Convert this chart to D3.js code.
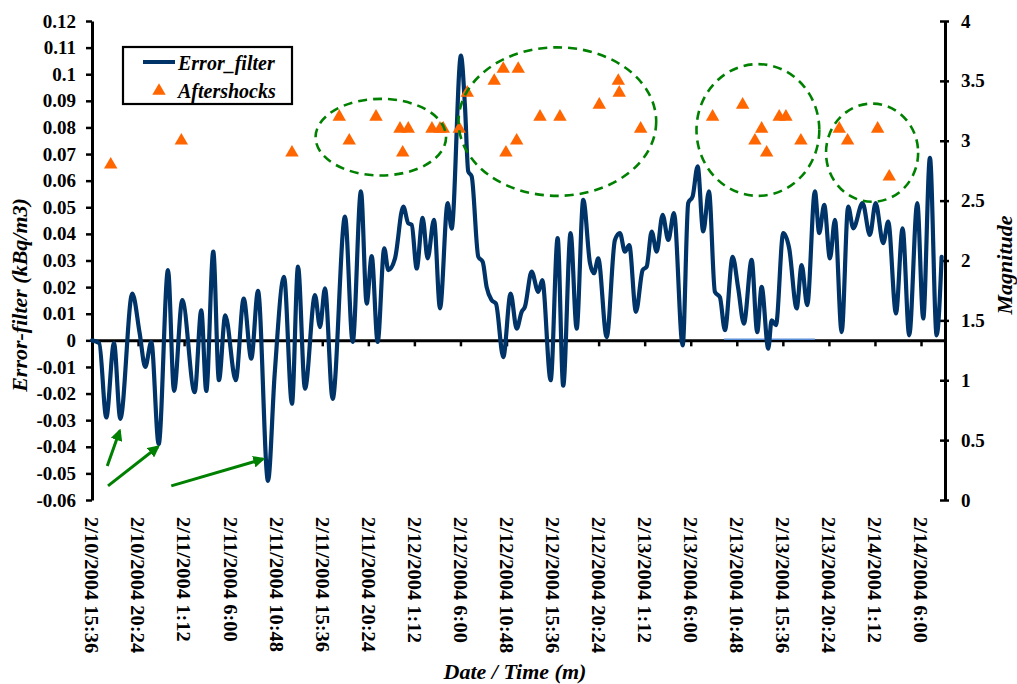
<!DOCTYPE html>
<html>
<head>
<meta charset="utf-8">
<script src="https://cdn.jsdelivr.net/npm/d3@7/dist/d3.min.js"></script>
<style>
  html, body { margin: 0; padding: 0; background: #fff; }
  svg { display: block; font-family: "Liberation Serif", "Times New Roman", serif; }
</style>
</head>
<body>
<svg id="chart" width="1017" height="684"></svg>
<script>
// ---------- DATA ----------
const startTime = new Date(2004, 1, 10, 15, 36);   // 2/10/2004 15:36
const axisEndHours = 88.9;
const tickStepHours = 4.8;

const xTickLabels = [
  "2/10/2004 15:36", "2/10/2004 20:24", "2/11/2004 1:12", "2/11/2004 6:00",
  "2/11/2004 10:48", "2/11/2004 15:36", "2/11/2004 20:24", "2/12/2004 1:12",
  "2/12/2004 6:00", "2/12/2004 10:48", "2/12/2004 15:36", "2/12/2004 20:24",
  "2/13/2004 1:12", "2/13/2004 6:00", "2/13/2004 10:48", "2/13/2004 15:36",
  "2/13/2004 20:24", "2/14/2004 1:12", "2/14/2004 6:00"
];
const leftTicks = [0.12, 0.11, 0.1, 0.09, 0.08, 0.07, 0.06, 0.05, 0.04, 0.03, 0.02, 0.01, 0,
                   -0.01, -0.02, -0.03, -0.04, -0.05, -0.06];
const leftTickLabels = ["0.12", "0.11", "0.1", "0.09", "0.08", "0.07", "0.06", "0.05", "0.04", "0.03",
                        "0.02", "0.01", "0", "-0.01", "-0.02", "-0.03", "-0.04", "-0.05", "-0.06"];
const rightTicks = [0, 0.5, 1, 1.5, 2, 2.5, 3, 3.5, 4];
const rightTickLabels = ["0", "0.5", "1", "1.5", "2", "2.5", "3", "3.5", "4"];

// Error_filter series: hours since 2/10/2004 15:36, value (kBq/m3)
const errorHours = [0, 0.75, 1.49, 2.29, 2.95, 4.20, 4.97, 5.55, 6.18, 6.95, 7.92, 8.55, 9.41, 10.70, 11.39,
  11.91, 12.64, 13.23, 13.89, 14.98, 15.81, 16.60, 17.30, 18.34, 19.04, 20.01, 20.84, 21.47, 22.20, 23.24,
  23.76, 24.28, 25.08, 26.37, 27.17, 28.03, 28.63, 29.15, 29.77, 30.46, 30.88, 31.58, 32.44, 32.96, 33.32,
  33.84, 34.46, 34.98, 35.64, 36.27, 37.07, 37.48, 38.45, 38.87, 39.21, 39.57, 40.26, 40.72, 41.13, 41.65,
  42.10, 42.86, 43.63, 44.26, 44.78, 45.12, 45.82, 46.51, 46.93, 47.80, 48.53, 49.11, 49.88, 50.51, 51.20,
  51.90, 52.31, 52.76, 53.64, 54.50, 55.02, 55.54, 55.99, 56.69, 57.39, 57.81, 58.33, 58.85, 59.47, 60.06,
  60.65, 61.56, 62.14, 62.60, 63.12, 63.70, 64.30, 64.92, 65.44, 65.96, 66.77, 67.35, 67.94, 68.75, 69.33,
  69.79, 70.48, 70.83, 71.28, 72.04, 72.66, 73.44, 73.96, 74.54, 75.34, 75.79, 76.31, 76.91, 77.43, 78.13,
  78.81, 79.34, 80.31, 81.07, 81.67, 82.46, 82.98, 83.79, 84.48, 85.17, 86.01, 86.63, 87.33, 88.03, 88.55];
const errorValues = [0, -0.001, -0.029, -0.001, -0.0295, 0.0176, 0.0026, -0.010, -0.0006, -0.039, 0.0264, -0.019,
  0.0151, -0.0195, 0.0113, -0.019, 0.0333, -0.015, 0.0094, -0.015, 0.0157, -0.0069, 0.0186, -0.0528, -0.0126,
  0.0239, -0.0238, 0.0277, -0.0182, 0.017, 0.005, 0.0195, -0.022, 0.0465, -0.0006, 0.056, 0.0138, 0.0317,
  -0.0006, 0.0346, 0.0264, 0.0308, 0.0503, 0.044, 0.0434, 0.027, 0.046, 0.0308, 0.0453, 0.012, 0.0516, 0.042,
  0.107, 0.088, 0.0635, 0.0616, 0.0314, 0.0295, 0.020, 0.0151, 0.0138, -0.0063, 0.0176, 0.0044, 0.0107, 0.0126,
  0.0258, 0.0182, 0.0226, -0.015, 0.0384, -0.017, 0.0403, 0.0044, 0.0528, 0.029, 0.0252, 0.0308, 0.0012, 0.0377,
  0.0403, 0.0333, 0.0358, 0.0107, 0.0264, 0.0277, 0.0409, 0.0333, 0.0472, 0.0377, 0.0478, -0.0019, 0.0516,
  0.0541, 0.0654, 0.0409, 0.056, 0.0182, 0.0162, 0.0038, 0.0314, 0.0195, 0.0063, 0.0302, 0.0031, 0.0201,
  -0.0031, 0.0075, 0.0057, 0.0403, 0.0346, 0.012, 0.0283, 0.0132, 0.056, 0.0403, 0.0509, 0.0308, 0.0453, 0.0031,
  0.0503, 0.0421, 0.0516, 0.0396, 0.0516, 0.0365, 0.0446, 0.0101, 0.0421, 0.0019, 0.0516, 0.0082, 0.0686,
  0.0019, 0.0314];

// Aftershocks: hours since start, magnitude
const shockHours = [1.95, 9.31, 20.84, 25.77, 26.81, 29.60, 32.10, 32.38, 32.96, 35.43, 36.27, 36.61, 38.28,
  39.11, 41.92, 42.86, 43.14, 44.26, 44.42, 46.69, 48.77, 52.87, 54.85, 54.95, 57.18, 64.68, 67.81, 69.09,
  69.79, 70.31, 71.62, 72.32, 73.88, 77.88, 78.75, 81.88, 83.09];
const shockMagnitudes = [2.8, 3.0, 2.9, 3.2, 3.0, 3.2, 3.1, 2.9, 3.1, 3.1, 3.1, 3.1, 3.1,
  3.4, 3.5, 3.6, 2.9, 3.0, 3.6, 3.2, 3.2, 3.3, 3.5, 3.4, 3.1, 3.2, 3.3, 3.0,
  3.1, 2.9, 3.2, 3.2, 3.0, 3.1, 3.0, 3.1, 2.7];

// Annotation clusters (dashed ellipses): centre hours, centre magnitude, half-width hours, half-height magnitude
const clusterHours = [30.1, 48.5, 69.4, 81.3];
const clusterMagnitudes = [3.03, 3.16, 3.09, 2.90];
const clusterHalfHours = [6.8, 10.3, 6.4, 4.8];
const clusterHalfMagnitudes = [0.32, 0.62, 0.55, 0.41];

// Annotation arrows: from (hours, value) to (hours, value) on the left axis
const arrowFromHours = [1.59, 1.67, 8.26];
const arrowFromValues = [-0.0472, -0.0547, -0.0547];
const arrowToHours = [2.89, 6.88, 17.82];
const arrowToValues = [-0.034, -0.040, -0.0446];

// Thin highlighted segment on the zero line
const highlightHours = [65.86, 75.34];

// ---------- CHART ----------
const FONT = '"Liberation Serif", "Times New Roman", serif';
const svg = d3.select("#chart");
const L = 92, R = 945, T = 21, B = 500;
const hrs = h => new Date(startTime.getTime() + h * 3600e3);

const x = d3.scaleTime().domain([startTime, hrs(axisEndHours)]).range([L, R]);
const yL = d3.scaleLinear().domain([-0.06, 0.12]).range([B, T]);
const yR = d3.scaleLinear().domain([0, 4]).range([B, T]);

// Left axis
const gL = svg.append("g").attr("transform", `translate(${L},0)`)
  .call(d3.axisLeft(yL).tickValues(leftTicks).tickSize(6).tickSizeOuter(0).tickPadding(10)
    .tickFormat((d, i) => leftTickLabels[i]));
gL.select(".domain").attr("stroke", "#000").attr("stroke-width", 3);
gL.selectAll(".tick line").attr("stroke", "#000").attr("stroke-width", 2.5);
gL.selectAll(".tick text").attr("font-family", FONT).attr("font-weight", "bold")
  .attr("font-size", 19).attr("fill", "#000");

// Right axis
const gR = svg.append("g").attr("transform", `translate(${R},0)`)
  .call(d3.axisRight(yR).tickValues(rightTicks).tickSize(4).tickSizeOuter(0).tickPadding(12)
    .tickFormat((d, i) => rightTickLabels[i]));
gR.select(".domain").attr("stroke", "#000").attr("stroke-width", 3);
gR.selectAll(".tick line").attr("stroke", "#000").attr("stroke-width", 2.5).attr("x1", -5);
gR.selectAll(".tick text").attr("font-family", FONT).attr("font-weight", "bold")
  .attr("font-size", 19).attr("fill", "#000");

// Bottom axis at zero
const tickDates = xTickLabels.map((_, i) => hrs(i * tickStepHours));
const gB = svg.append("g").attr("transform", `translate(0,${yL(0)})`)
  .call(d3.axisBottom(x).tickValues(tickDates).tickSize(6).tickSizeOuter(0).tickFormat(""));
gB.select(".domain").attr("stroke", "#000").attr("stroke-width", 3);
gB.selectAll(".tick line").attr("stroke", "#000").attr("stroke-width", 2.5);

// X tick labels below the plot, rotated
svg.append("g").selectAll("text").data(xTickLabels).join("text")
  .attr("transform", (d, i) => `translate(${x(tickDates[i])},${B + 17}) rotate(90) scale(1.08,1)`)
  .attr("dy", "0.35em")
  .attr("text-anchor", "start")
  .attr("font-family", FONT).attr("font-weight", "bold").attr("font-size", 19)
  .text(d => d);

// highlight segment
svg.append("line")
  .attr("x1", x(hrs(highlightHours[0]))).attr("x2", x(hrs(highlightHours[1])))
  .attr("y1", yL(0) - 1).attr("y2", yL(0) - 1)
  .attr("stroke", "#5b8fd8").attr("stroke-width", 1.5);

// Error_filter line
const lineData = errorHours.map((h, i) => ({ t: hrs(h), v: errorValues[i] }));
svg.append("path").datum(lineData)
  .attr("fill", "none").attr("stroke", "#003468").attr("stroke-width", 4.2)
  .attr("stroke-linejoin", "round").attr("stroke-linecap", "round")
  .attr("d", d3.line().x(d => x(d.t)).y(d => yL(d.v)).curve(d3.curveMonotoneX));

// Aftershocks
const tri = d3.symbol().type(d3.symbolTriangle).size(78);
svg.append("g").selectAll("path").data(shockHours).join("path")
  .attr("transform", (h, i) => `translate(${x(hrs(h))},${yR(shockMagnitudes[i])})`)
  .attr("d", tri).attr("fill", "#ff6600");

// Ellipses
svg.append("g").selectAll("ellipse").data(clusterHours).join("ellipse")
  .attr("cx", h => x(hrs(h)))
  .attr("cy", (h, i) => yR(clusterMagnitudes[i]))
  .attr("rx", (h, i) => x(hrs(h + clusterHalfHours[i])) - x(hrs(h)))
  .attr("ry", (h, i) => yR(0) - yR(clusterHalfMagnitudes[i]))
  .attr("fill", "none").attr("stroke", "#008000").attr("stroke-width", 2.6)
  .attr("stroke-dasharray", "9,6");

// Arrows
svg.append("defs").append("marker")
  .attr("id", "arrowhead").attr("viewBox", "0 0 10 10")
  .attr("refX", 8).attr("refY", 5).attr("markerWidth", 4).attr("markerHeight", 4)
  .attr("orient", "auto").attr("markerUnits", "strokeWidth")
  .append("path").attr("d", "M0,0 L10,5 L0,10 z").attr("fill", "#008000");
svg.append("g").selectAll("line").data(arrowFromHours).join("line")
  .attr("x1", h => x(hrs(h)))
  .attr("y1", (h, i) => yL(arrowFromValues[i]))
  .attr("x2", (h, i) => x(hrs(arrowToHours[i])))
  .attr("y2", (h, i) => yL(arrowToValues[i]))
  .attr("stroke", "#008000").attr("stroke-width", 3)
  .attr("marker-end", "url(#arrowhead)");

// Legend
const lg = svg.append("g");
lg.append("rect").attr("x", 123).attr("y", 47).attr("width", 169).attr("height", 57)
  .attr("fill", "#fff").attr("stroke", "#000").attr("stroke-width", 2.2);
lg.append("line").attr("x1", 143).attr("x2", 175).attr("y1", 62).attr("y2", 62)
  .attr("stroke", "#003468").attr("stroke-width", 4);
lg.append("path").attr("transform", "translate(159,91)").attr("d", tri).attr("fill", "#ff6600");
lg.append("text").attr("x", 178).attr("y", 70).text("Error_filter")
  .attr("font-family", FONT).attr("font-weight", "bold").attr("font-style", "italic").attr("font-size", 20);
lg.append("text").attr("x", 178).attr("y", 98).text("Aftershocks")
  .attr("font-family", FONT).attr("font-weight", "bold").attr("font-style", "italic").attr("font-size", 20);

// Axis titles
svg.append("text").attr("transform", "translate(27,295) rotate(-90)")
  .attr("text-anchor", "middle").attr("font-family", FONT).attr("font-weight", "bold")
  .attr("font-style", "italic").attr("font-size", 22).text("Error-filter (kBq/m3)");
svg.append("text").attr("transform", "translate(1012,265) rotate(-90)")
  .attr("text-anchor", "middle").attr("font-family", FONT).attr("font-weight", "bold")
  .attr("font-style", "italic").attr("font-size", 22).text("Magnitude");
svg.append("text").attr("x", 515).attr("y", 679)
  .attr("text-anchor", "middle").attr("font-family", FONT).attr("font-weight", "bold")
  .attr("font-style", "italic").attr("font-size", 22).text("Date / Time (m)");
</script>
</body>
</html>
